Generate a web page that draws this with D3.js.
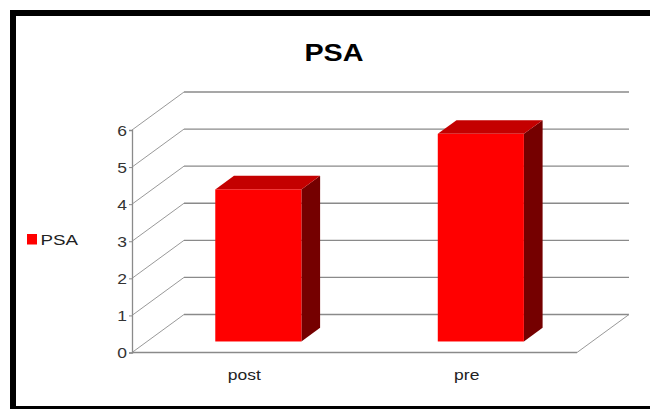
<!DOCTYPE html>
<html>
<head>
<meta charset="utf-8">
<script src="https://cdn.jsdelivr.net/npm/d3@7"></script>
<style>
html,body{margin:0;padding:0;background:#fff;}
svg{display:block;}
text{font-family:"Liberation Sans",Arial,sans-serif;}
</style>
</head>
<body>
<svg id="chart" width="650" height="409"></svg>
<script>
const categories = ["post", "pre"];
const seriesName = "PSA";
const values = [4.1, 5.6];
const yTicks = [0, 1, 2, 3, 4, 5, 6];
const title = "PSA";

const svg = d3.select("#chart");
const DX = 52, DY = -38;           // depth offset of the back wall
const d0 = 0.29, d1 = 0.65;        // bar depth range (fraction)
const SX = 1.25;                   // horizontal text stretch seen in the reference

const x = d3.scaleBand().domain(categories).range([132, 577]).padding(0);
const y = d3.scaleLinear().domain([0, 6]).range([352.5, 130]);

function stretchedText(g, tx, ty, txt, size, anchor, weight, fill) {
  return g.append("text")
    .attr("transform", `translate(${tx},${ty}) scale(${SX},1)`)
    .attr("text-anchor", anchor).attr("font-size", size)
    .attr("font-weight", weight).attr("fill", fill).text(txt);
}

// frame
svg.append("rect").attr("x", 13).attr("y", 13).attr("width", 700).attr("height", 396)
  .attr("fill", "#fff").attr("stroke", "#000").attr("stroke-width", 6);

// title
stretchedText(svg, 334, 61, title, 23, "middle", "bold", "#000");

const grid = svg.append("g").attr("stroke", "#8a8a8a").attr("fill", "none");
const x0 = x.range()[0], x1 = x.range()[1];

// back wall gridlines and side wall diagonals
yTicks.forEach(t => {
  grid.append("line").attr("x1", x0 + DX).attr("x2", x1 + DX)
    .attr("y1", y(t) + DY).attr("y2", y(t) + DY).attr("stroke-width", 1.3);
  grid.append("line").attr("x1", x0).attr("y1", y(t))
    .attr("x2", x0 + DX).attr("y2", y(t) + DY).attr("stroke", "#999").attr("stroke-width", 1);
});
// floor
grid.append("line").attr("x1", x0).attr("x2", x1).attr("y1", y(0)).attr("y2", y(0)).attr("stroke-width", 1.3);
grid.append("line").attr("x1", x1).attr("y1", y(0)).attr("x2", x1 + DX).attr("y2", y(0) + DY)
  .attr("stroke", "#999").attr("stroke-width", 1);

// y axis
const yAxis = d3.axisLeft(y).tickValues(yTicks).tickSize(3).tickPadding(3).tickFormat(d3.format("d"));
const ga = svg.append("g").attr("transform", `translate(${x0},0)`).call(yAxis);
ga.select(".domain").attr("stroke", "#8a8a8a").attr("stroke-width", 1.3);
ga.selectAll(".tick line").attr("stroke", "#8a8a8a");
ga.selectAll(".tick text").attr("font-size", 14).attr("fill", "#333")
  .attr("font-family", "'Liberation Sans',Arial,sans-serif")
  .attr("x", -5 / SX).attr("dy", "0.36em")
  .attr("transform", `scale(${SX},1)`);

// category labels
const gl = svg.append("g");
categories.forEach(c => {
  stretchedText(gl, x(c) + x.bandwidth() / 2 + 1, 380, c, 14, "middle", "normal", "#222");
});

// bars
const bw = x.bandwidth() * 0.387;
const bars = svg.append("g");
categories.forEach((c, i) => {
  const v = values[i];
  const cx = x(c) + x.bandwidth() / 2;
  const fx0 = cx - bw / 2 + d0 * DX, fx1 = cx + bw / 2 + d0 * DX;
  const fyb = y(0) + d0 * DY, fyt = y(v) + d0 * DY;
  const ddx = (d1 - d0) * DX, ddy = (d1 - d0) * DY;
  // side
  bars.append("path").attr("d",
    `M${fx1},${fyt}L${fx1 + ddx},${fyt + ddy}L${fx1 + ddx},${fyb + ddy}L${fx1},${fyb}Z`)
    .attr("fill", "#750000");
  // top
  bars.append("path").attr("d",
    `M${fx0},${fyt}L${fx0 + ddx},${fyt + ddy}L${fx1 + ddx},${fyt + ddy}L${fx1},${fyt}Z`)
    .attr("fill", "#c40000");
  // front
  bars.append("rect").attr("x", fx0).attr("y", fyt).attr("width", fx1 - fx0).attr("height", fyb - fyt)
    .attr("fill", "#ff0000");
});

// legend
svg.append("rect").attr("x", 27).attr("y", 234).attr("width", 10).attr("height", 10.5).attr("fill", "#ff0000");
stretchedText(svg, 40.5, 244.5, seriesName, 15, "start", "normal", "#222");
</script>
</body>
</html>
